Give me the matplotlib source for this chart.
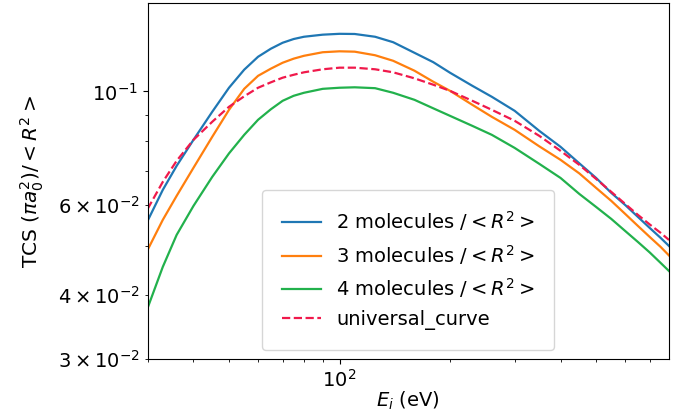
import matplotlib
matplotlib.use('Agg')
import matplotlib.pyplot as plt

# incident energy (eV)
energy = [30, 33, 36, 40, 45, 50, 55, 60, 65, 70, 75, 80, 90, 100, 110, 125, 140, 160,
          180, 200, 230, 260, 300, 350, 400, 450, 500, 550, 600, 650, 700, 750, 790]

tcs_2mol = [0.05589, 0.06424, 0.07158, 0.08045, 0.09127, 0.1017, 0.1103, 0.1169, 0.1212, 0.1245,
            0.1266, 0.1279, 0.1291, 0.1296, 0.1295, 0.1279, 0.1248, 0.1190, 0.1141, 0.1088,
            0.1026, 0.09764, 0.09168, 0.08379, 0.07798, 0.07240, 0.06780, 0.06339, 0.06004,
            0.05690, 0.05415, 0.05176, 0.04993]
tcs_3mol = [0.04904, 0.05614, 0.06254, 0.07094, 0.08155, 0.09209, 0.1012, 0.1073, 0.1108, 0.1138,
            0.1159, 0.1174, 0.1193, 0.1198, 0.1196, 0.1177, 0.1148, 0.1098, 0.1045, 0.1003,
            0.09419, 0.08923, 0.08417, 0.07816, 0.07355, 0.06920, 0.06483, 0.06115, 0.05768,
            0.05464, 0.05200, 0.04970, 0.04784]
tcs_4mol = [0.03777, 0.04544, 0.05248, 0.05977, 0.06811, 0.07571, 0.08229, 0.08806, 0.09231, 0.09590,
            0.09808, 0.09942, 0.1012, 0.1017, 0.1019, 0.1015, 0.09942, 0.09633, 0.09272, 0.08963,
            0.08569, 0.08229, 0.07760, 0.07224, 0.06780, 0.06310, 0.05951, 0.05639, 0.05342,
            0.05084, 0.04850, 0.04625, 0.04461]
universal = [0.05897, 0.06659, 0.07322, 0.08045, 0.08726, 0.09335, 0.09786, 0.1017, 0.1042, 0.1064,
             0.1078, 0.1090, 0.1105, 0.1113, 0.1113, 0.1105, 0.1090, 0.1061, 0.1031, 0.1003,
             0.09590, 0.09209, 0.08766, 0.08193, 0.07659, 0.07191, 0.06750, 0.06368, 0.06033,
             0.05742, 0.05500, 0.05295, 0.05130]

labels = [r'2 molecules /$<R^2>$', r'3 molecules /$<R^2>$', r'4 molecules /$<R^2>$', 'universal_curve']

fig = plt.figure(figsize=(6.81, 4.16), dpi=100)
ax = fig.add_axes([0.2167, 0.1363, 0.7657, 0.857])

ax.plot(energy, tcs_2mol, color='#1f77b4', lw=1.6, solid_joinstyle='round', label=labels[0])
ax.plot(energy, tcs_3mol, color='#ff7f0e', lw=1.6, solid_joinstyle='round', label=labels[1])
ax.plot(energy, tcs_4mol, color='#22b14c', lw=1.6, solid_joinstyle='round', label=labels[2])
ax.plot(energy, universal, color='#f0194b', lw=1.6, ls='--', label=labels[3])

ax.set_xscale('log')
ax.set_yscale('log')
ax.set_xlim(30, 790)
ax.set_ylim(0.03, 0.149)

ax.tick_params(labelsize=14)
ax.tick_params(which='minor', labelsize=14)
ax.set_xlabel(r'$E_i$ (eV)', fontsize=14, labelpad=-1)
ax.set_ylabel(r'TCS $(\pi a_0^2)/<R^2>$', fontsize=14.5, labelpad=9)

ax.legend(loc='lower center', fontsize=14, borderpad=1.0)

fig.savefig('out.png', dpi=100)
